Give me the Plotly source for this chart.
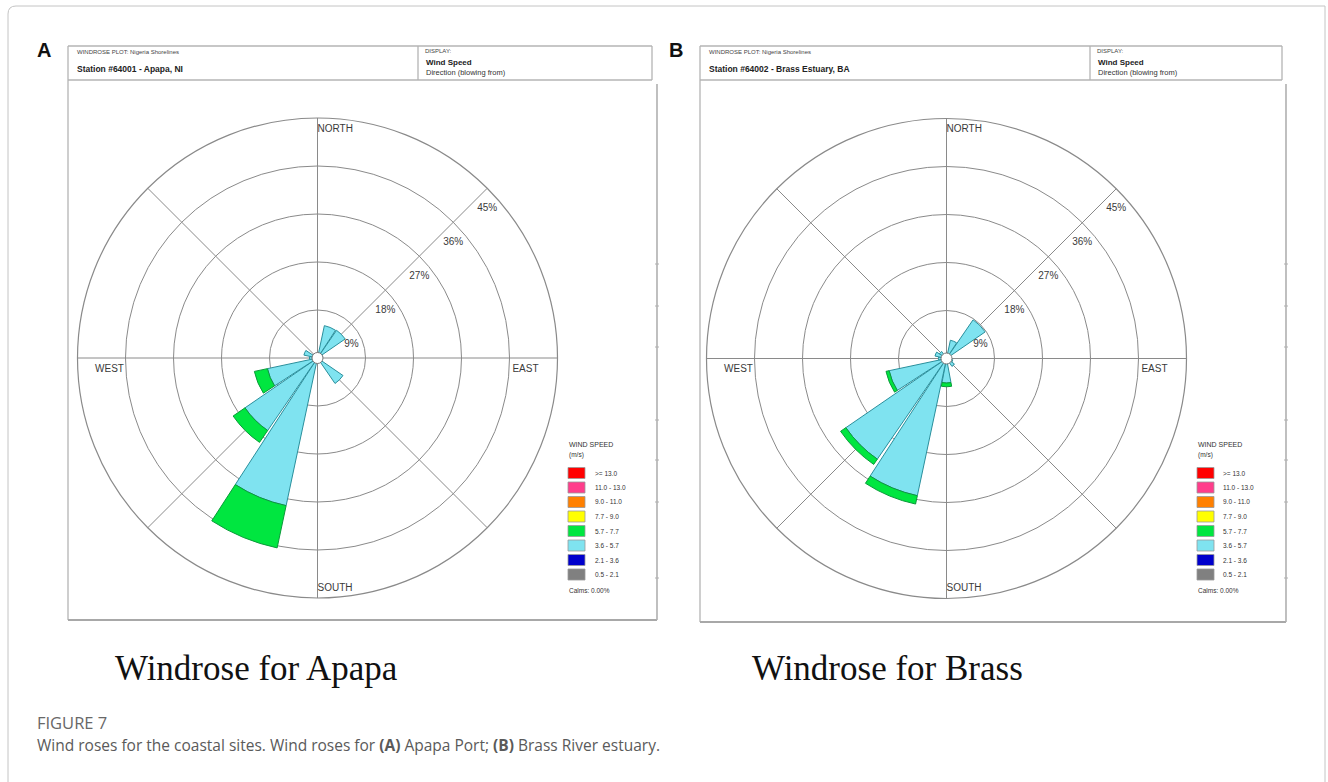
import math
import plotly.graph_objects as go

W, H = 1328, 782

# ---- data -------------------------------------------------------------
directions = [0, 22.5, 45, 67.5, 90, 112.5, 135, 157.5,
              180, 202.5, 225, 247.5, 270, 292.5, 315, 337.5]

speed_classes = [">= 13.0", "11.0 - 13.0", "9.0 - 11.0", "7.7 - 9.0",
                 "5.7 - 7.7", "3.6 - 5.7", "2.1 - 3.6", "0.5 - 2.1"]
speed_colors = ["#ff0000", "#ff3d8b", "#ff8000", "#ffff00",
                "#00e640", "#7fe3f0", "#0000cc", "#808080"]

# Apapa (station 64001), frequency % per direction
apapa_36_57 = [0, 6.2, 6.3, 1.0, 0, 0.8, 5.8, 0,
               0, 28.3, 16.5, 9.6, 1.5, 2.6, 0.8, 0]
apapa_57_77 = [0, 0, 0, 0, 0, 0, 0, 0,
               0, 8.1, 2.7, 2.5, 0, 0, 0, 0]

# Brass estuary (station 64002), frequency % per direction
brass_36_57 = [0, 3.5, 8.8, 0.8, 0.6, 1.2, 1.8, 1.0,
               4.6, 26.3, 22.9, 11.0, 1.5, 2.2, 1.6, 0.8]
brass_57_77 = [0, 0, 0, 0, 0, 0, 0, 0,
               0.7, 1.6, 1.2, 0.6, 0, 0, 0, 0]

ring_values = [9, 18, 27, 36, 45]
ring_labels = ["9%", "18%", "27%", "36%", "45%"]
compass_names = ["NORTH", "EAST", "SOUTH", "WEST"]

# ---- geometry ---------------------------------------------------------
R_PX = 240                      # outer ring radius in pixels
PCT_PER_PX = ring_values[-1] / R_PX
centers = {"polar": (317.5, 358.0), "polar2": (946.5, 358.5)}


def px(x):
    return x / W


def py(y):
    return 1 - y / H


def domain(cx, cy):
    return dict(x=[px(cx - R_PX), px(cx + R_PX)],
                y=[py(cy + R_PX), py(cy - R_PX)])


def polar_at(dx, dy_down):
    """(r %, compass deg) of a pixel offset from the rose centre."""
    r = math.hypot(dx, dy_down) * PCT_PER_PX
    th = math.degrees(math.atan2(dx, -dy_down)) % 360
    return r, th


fig = go.Figure()

GRID = "#8a8a8a"
CYAN_LINE = "#2a8f9c"
GREEN_LINE = "#0b9a3a"
LABEL_FONT = dict(family="Arial", size=10, color="#3a3a3a")


def add_rose(sub, cyan, green):
    fig.add_trace(go.Barpolar(
        r=cyan, theta=directions, width=21, subplot=sub,
        marker=dict(color=speed_colors[5], line=dict(color=CYAN_LINE, width=1)),
        showlegend=False, hoverinfo="skip"))
    fig.add_trace(go.Barpolar(
        r=green, theta=directions, width=21, subplot=sub,
        marker=dict(color=speed_colors[4], line=dict(color=GREEN_LINE, width=1)),
        showlegend=False, hoverinfo="skip"))
    # calm circle at the centre
    fig.add_trace(go.Scatterpolar(
        r=[0], theta=[0], mode="markers", subplot=sub,
        marker=dict(size=11, color="white", line=dict(color="#777", width=1)),
        showlegend=False, hoverinfo="skip"))
    # ring labels, 20 px below where each ring crosses the NE spoke
    lr, lt = [], []
    for v in ring_values:
        a = v / PCT_PER_PX * math.cos(math.radians(45))
        r, th = polar_at(a, -a + 20)
        lr.append(r)
        lt.append(th)
    fig.add_trace(go.Scatterpolar(
        r=lr, theta=lt, mode="text", text=ring_labels, subplot=sub,
        textposition="middle center", textfont=LABEL_FONT,
        showlegend=False, hoverinfo="skip"))
    # compass labels
    fig.add_trace(go.Scatterpolar(
        r=[229 * PCT_PER_PX, 230 * PCT_PER_PX], theta=[0, 180], mode="text",
        text=[compass_names[0], compass_names[2]], subplot=sub,
        textposition="middle right", textfont=LABEL_FONT,
        showlegend=False, hoverinfo="skip"))
    ew = [polar_at(208, 11), polar_at(-208, 11)]
    fig.add_trace(go.Scatterpolar(
        r=[p[0] for p in ew], theta=[p[1] for p in ew], mode="text",
        text=[compass_names[1], compass_names[3]], subplot=sub,
        textposition="middle center", textfont=LABEL_FONT,
        showlegend=False, hoverinfo="skip"))


add_rose("polar", apapa_36_57, apapa_57_77)
add_rose("polar2", brass_36_57, brass_57_77)

polar_common = dict(
    bgcolor="rgba(0,0,0,0)",
    barmode="stack",
    radialaxis=dict(range=[0, 45], tickvals=ring_values, showticklabels=False,
                    ticks="", showline=False, gridcolor=GRID, gridwidth=1.2,
                    layer="below traces"),
    angularaxis=dict(direction="clockwise", rotation=90,
                     tickvals=[0, 45, 90, 135, 180, 225, 270, 315],
                     showticklabels=False, ticks="", gridcolor=GRID, gridwidth=1.2,
                     showline=True, linecolor=GRID, linewidth=1.2,
                     layer="below traces"),
)

shapes = []
annotations = []
LINE = dict(color="#b4b4b4", width=1.3)


def seg(x0, y0, x1, y1, line=LINE):
    shapes.append(dict(type="line", xref="paper", yref="paper",
                       x0=px(x0), y0=py(y0), x1=px(x1), y1=py(y1), line=line))


def text(x, y, s, size, color="#222", family="Arial", xanchor="left",
         yanchor="middle"):
    annotations.append(dict(x=px(x), y=py(y), xref="paper", yref="paper",
                            text=s, showarrow=False, xanchor=xanchor,
                            yanchor=yanchor,
                            font=dict(family=family, size=size, color=color)))


# outer figure frame
shapes.append(dict(type="path", xref="paper", yref="paper",
                   path=(f"M {px(8)} {py(800)} L {px(8)} {py(14)} "
                         f"Q {px(8)} {py(6)} {px(16)} {py(6)} "
                         f"L {px(1325)} {py(6)} L {px(1325)} {py(800)}"),
                   line=dict(color="#c4c4c4", width=1)))

panels = [
    dict(x0=68, x1=652, div=418, xr=657, yb=620,
         station="Station #64001 - Apapa, NI", letter="A",
         title="Windrose for Apapa", tx=256, leg_sw=568, leg_tx=593),
    dict(x0=700, x1=1282, div=1090, xr=1286, yb=622,
         station="Station #64002 - Brass Estuary, BA", letter="B",
         title="Windrose for Brass", tx=887, leg_sw=1197, leg_tx=1221),
]

for p in panels:
    # header box
    seg(p["x0"], 46, p["x1"], 46)
    seg(p["x0"], 80, p["x1"], 80)
    seg(p["x1"], 46, p["x1"], 80)
    seg(p["div"], 46, p["div"], 80)
    # plot body
    seg(p["x0"], 46, p["x0"], p["yb"])
    seg(p["x0"], p["yb"], p["xr"], p["yb"], dict(color="#a8a8a8", width=1.8))
    seg(p["xr"], 84, p["xr"], p["yb"], dict(color="#b0b0b0", width=1.6))
    for ty in [264, 306, 347, 420, 460, 502, 578]:
        seg(p["xr"] - 2, ty, p["xr"] + 2, ty, dict(color="#b0b0b0", width=1))

    text(p["x0"] + 7, 52, "WINDROSE PLOT: Nigeria Shorelines", 6, "#444")
    text(p["x0"] + 7, 69, "<b>" + p["station"] + "</b>", 8.5, "#222")
    text(p["div"] + 5, 51, "DISPLAY:", 6, "#444")
    text(p["div"] + 6, 62, "<b>Wind Speed</b>", 8, "#222")
    text(p["div"] + 6, 72, "Direction (blowing from)", 7.5, "#333")

    text(p["x0"] - 33, 50, "<b>" + p["letter"] + "</b>", 20, "#111")
    text(p["tx"], 668, p["title"], 35, "#111", family="Liberation Serif",
         xanchor="center")

    # wind speed key
    text(p["leg_sw"] - 1, 444, "WIND SPEED", 7, "#333")
    text(p["leg_sw"] - 1, 455, "(m/s)", 6.5, "#333")
    for i, (lab, col) in enumerate(zip(speed_classes, speed_colors)):
        yc = 473 + i * 14.5
        shapes.append(dict(type="rect", xref="paper", yref="paper",
                           x0=px(p["leg_sw"]), x1=px(p["leg_sw"] + 17),
                           y0=py(yc + 5.5), y1=py(yc - 5.5),
                           fillcolor=col, line=dict(color="#999", width=0.8)))
        text(p["leg_tx"], yc, lab, 6.5, "#333")
    text(p["leg_sw"] - 1, 590, "Calms: 0.00%", 6.5, "#333")

# caption
text(35, 722, "FIGURE 7", 16.5, "#686868", family="Open Sans")
text(35, 745, "Wind roses for the coastal sites. Wind roses for <b>(A)</b> Apapa Port; "
     "<b>(B)</b> Brass River estuary.", 15.5, "#5a5a5a", family="Open Sans")

fig.update_layout(
    width=W, height=H,
    margin=dict(l=0, r=0, t=0, b=0),
    paper_bgcolor="white", plot_bgcolor="white",
    showlegend=False,
    polar=dict(domain=domain(*centers["polar"]), **polar_common),
    polar2=dict(domain=domain(*centers["polar2"]), **polar_common),
    shapes=shapes,
    annotations=annotations,
)

fig.write_html("out.html")
